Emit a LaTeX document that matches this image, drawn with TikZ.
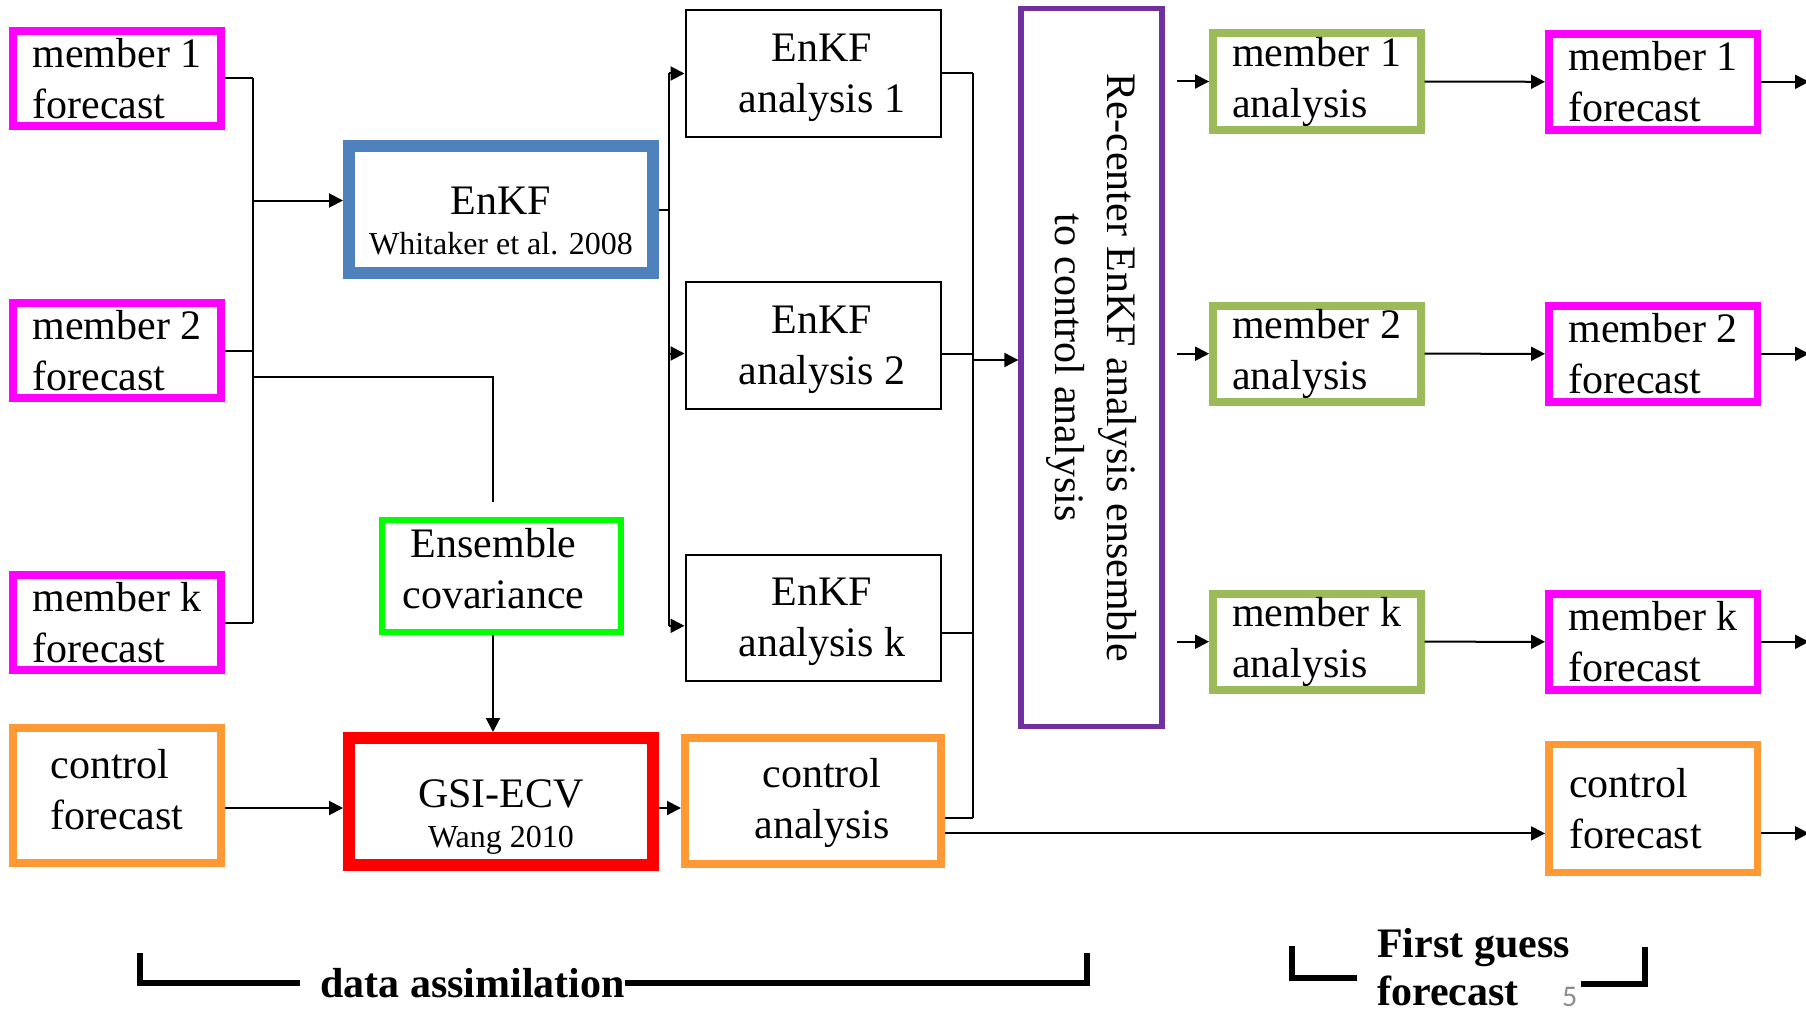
\documentclass[tikz,border=0pt]{standalone}
\usepackage{fontspec}
\setmainfont{Liberation Serif}
\newfontfamily\slidefont{Carlito}
\usepackage{graphicx}
\usetikzlibrary{arrows.meta,calc}
\definecolor{mag}{HTML}{FF00FF}
\definecolor{blu}{HTML}{4F81BD}
\definecolor{rd}{HTML}{FF0000}
\definecolor{grn}{HTML}{00FF00}
\definecolor{org}{HTML}{FF9933}
\definecolor{olv}{HTML}{9BBB59}
\definecolor{pur}{HTML}{7030A0}
\definecolor{pgray}{HTML}{8C8C8C}
\tikzset{
  box/.style={draw, inner sep=0pt, font=\fontsize{42}{51}\selectfont, align=center},
  magbox/.style={box, draw=mag, line width=8pt, minimum width=208pt, minimum height=95pt, align=left},
  olvbox/.style={box, draw=olv, line width=8pt, minimum width=207.5pt, minimum height=96.4pt, align=left},
  enkfbox/.style={box, draw=black, line width=2pt, minimum width=255pt, minimum height=126.4pt},
  ln/.style={line width=2pt},
  arr/.style={line width=2pt, -{Triangle[length=14pt,width=14pt]}},
  brk/.style={line width=6pt, line join=miter},
  lbl/.style={font=\bfseries\fontsize{42}{48}\selectfont, inner sep=0pt}
}
\begin{document}
\begin{tikzpicture}[x=1pt,y=-1pt]
\useasboundingbox (0,0) rectangle (1806,1014);

% left column
\node[magbox] (m1fL) at (117,78.4) {member 1\\forecast};
\node[magbox] (m2fL) at (117,350.5) {member 2\\forecast};
\node[magbox] (mkfL) at (117,622.5) {member k\\forecast};
\node[box, draw=org, line width=8pt, minimum width=208pt, minimum height=135pt, align=left] (cfL) at (117,795.5) {control\\forecast\rule[-12pt]{0pt}{0pt}};

% middle-left
\node[box, draw=blu, line width=12pt, minimum width=304pt, minimum height=127pt] (W) at (501,209.5)
  {\rule{0pt}{51pt}EnKF\\[-11pt]{\fontsize{32}{40}\selectfont Whitaker et al. 2008}};
\node[box, draw=grn, line width=6pt, minimum width=239pt, minimum height=112pt] (cov) at (501.5,576)
  {Ensemble\hspace*{16pt}\\covariance\hspace*{16pt}\rule[-16pt]{0pt}{0pt}};
\node[box, draw=rd, line width=12pt, minimum width=304pt, minimum height=127pt] (gsi) at (501,801.5)
  {\rule{0pt}{58pt}GSI-ECV\\[-11pt]{\fontsize{32}{40}\selectfont Wang 2010}};

% analyses
\node[enkfbox] (A1) at (813,73.5) {\hspace*{18pt}\rule{0pt}{36pt}EnKF\\\hspace*{18pt}analysis 1};
\node[enkfbox] (A2) at (813,345.5) {\hspace*{18pt}\rule{0pt}{36pt}EnKF\\\hspace*{18pt}analysis 2};
\node[enkfbox] (Ak) at (813,617.8) {\hspace*{18pt}\rule{0pt}{36pt}EnKF\\\hspace*{18pt}analysis k};
\node[box, draw=org, line width=8pt, minimum width=256pt, minimum height=126.4pt] (CA) at (813,800.8) {\hspace*{18pt}\rule{0pt}{33pt}control\\\hspace*{18pt}analysis};

% re-center
\node[box, draw=pur, line width=5.5pt, minimum width=141pt, minimum height=717.5pt] (RC) at (1091.6,367.5)
  {\rotatebox{-90}{\fontsize{42}{52}\selectfont\begin{tabular}{@{}c@{}}Re-center EnKF analysis ensemble\\to control analysis\end{tabular}}};

% member analyses
\node[olvbox] (m1a) at (1316.8,81.5) {member 1\\analysis};
\node[olvbox] (m2a) at (1316.8,353.7) {member 2\\analysis};
\node[olvbox] (mka) at (1316.8,641.7) {member k\\analysis};

% right forecasts
\node[magbox, line width=7.5pt, minimum width=208.5pt, minimum height=96pt] (m1fR) at (1653,81.8) {member 1\\forecast};
\node[magbox, line width=7.5pt, minimum width=208.5pt, minimum height=96pt] (m2fR) at (1653,353.8) {member 2\\forecast};
\node[magbox, line width=7.5pt, minimum width=208.5pt, minimum height=96pt] (mkfR) at (1653,641.8) {member k\\forecast};
\node[box, draw=org, line width=7.5pt, minimum width=208.5pt, minimum height=128pt, text width=168pt, align=left] (cfR) at (1653,808.3) {control\\forecast};

% ---- helper coordinates
\coordinate (busL) at (253,0);
\coordinate (busA) at (669,0);
\coordinate (busR) at (972.6,0);
\coordinate (covrow) at (0,377);
\coordinate (Win) at ([yshift=9pt]W.west);
\coordinate (covtop) at ([xshift=-8.5pt,yshift=15.5pt]cov.north);
\coordinate (covbot) at ([xshift=-8.5pt]cov.south);
\coordinate (gsiout) at ([yshift=-6.5pt]gsi.east);
\coordinate (A2in) at ([yshift=-8pt]A2.west);
\coordinate (Akin) at ([yshift=-8pt]Ak.west);
\coordinate (A2out) at ([yshift=-8pt]A2.east);
\coordinate (Akout) at ([yshift=-15pt]Ak.east);
\coordinate (CAout) at ([yshift=-17pt]CA.east);
\coordinate (CAlong) at ([yshift=-32.6pt]CA.east);
\coordinate (RCin) at ([yshift=7.5pt]RC.west);
\coordinate (m1ain) at ([xshift=-32pt]m1a.west);
\coordinate (m2ain) at ([xshift=-32pt]m2a.west);
\coordinate (mkain) at ([xshift=-32pt]mka.west);
\coordinate (m1fend) at ([xshift=48pt]m1fR.east);
\coordinate (m2fend) at ([xshift=48pt]m2fR.east);
\coordinate (mkfend) at ([xshift=48pt]mkfR.east);
\coordinate (cfRout) at ([yshift=-25pt]cfR.east);
\coordinate (cfRend) at ([xshift=48pt]cfRout);

% ---- left bus
\draw[ln] (m1fL.east) -- (m1fL.east -| busL);
\draw[ln] (m2fL.east) -- (m2fL.east -| busL);
\draw[ln] (mkfL.east) -- (mkfL.east -| busL);
\draw[ln] (busL |- m1fL.east) -- (busL |- mkfL.east);
\draw[arr] (busL |- Win) -- (Win);
\draw[ln] (busL |- covrow) -| (covtop);
\draw[arr] (covbot) -- (covbot |- gsi.north);
\draw[arr] (cfL.east |- gsiout) -- (gsiout -| gsi.west);
\draw[arr] (gsiout) -- (gsiout -| CA.west);

% ---- analysis bus
\draw[ln] (W.east) -- (W.east -| busA);
\draw[ln] (busA |- A1.west) -- (busA |- Akin);
\draw[arr] (busA |- A1.west) -- (A1.west);
\draw[arr] (busA |- A2in) -- (A2in);
\draw[arr] (busA |- Akin) -- (Akin);

% ---- right bus
\draw[ln] (A1.east) -- (A1.east -| busR);
\draw[ln] (A2out) -- (A2out -| busR);
\draw[ln] (Akout) -- (Akout -| busR);
\draw[ln] (CAout) -- (CAout -| busR);
\draw[ln] (busR |- A1.east) -- (busR |- CAout);
\draw[arr] (busR |- RCin) -- (RCin);
\draw[arr] (CAlong) -- (CAlong -| cfR.west);

% ---- member chains
\draw[arr] (m1ain) -- (m1a.west);
\draw[arr] (m2ain) -- (m2a.west);
\draw[arr] (mkain) -- (mka.west);
\draw[arr] (m1a.east) -- (m1fR.west);
\draw[arr] (m2a.east) -- (m2fR.west);
\draw[arr] (mka.east) -- (mkfR.west);
\draw[arr] (m1fR.east) -- (m1fend);
\draw[arr] (m2fR.east) -- (m2fend);
\draw[arr] (mkfR.east) -- (mkfend);
\draw[arr] (cfRout) -- (cfRend);

% ---- bottom brackets
\node[lbl, anchor=base west] (da) at (320,997) {data assimilation};
\coordinate (daL) at (140,953);
\coordinate (daC) at (140,983);
\coordinate (daE) at (300,983);
\coordinate (daR) at (1087,983);
\coordinate (daRT) at (1087,953);
\draw[brk] (daL) -- (daC) -- (daE);
\draw[brk] (da.east |- daC) -- (daR) -- (daRT);

\node[lbl, anchor=north west, align=left] (fg) at (1377,928) {First guess\\forecast};
\coordinate (fgL) at (1292,946);
\coordinate (fgC) at (1292,978);
\coordinate (fgE) at (1357,978);
\coordinate (fgS) at (1581,984);
\coordinate (fgR) at (1645,984);
\coordinate (fgRT) at (1645,947);
\draw[brk] (fgL) -- (fgC) -- (fgE);
\draw[brk] (fgS) -- (fgR) -- (fgRT);
\node[font=\slidefont\fontsize{30}{36}\selectfont, text=pgray, inner sep=0pt, anchor=base west] (pg) at (1562,1006) {5};
\end{tikzpicture}
\end{document}
